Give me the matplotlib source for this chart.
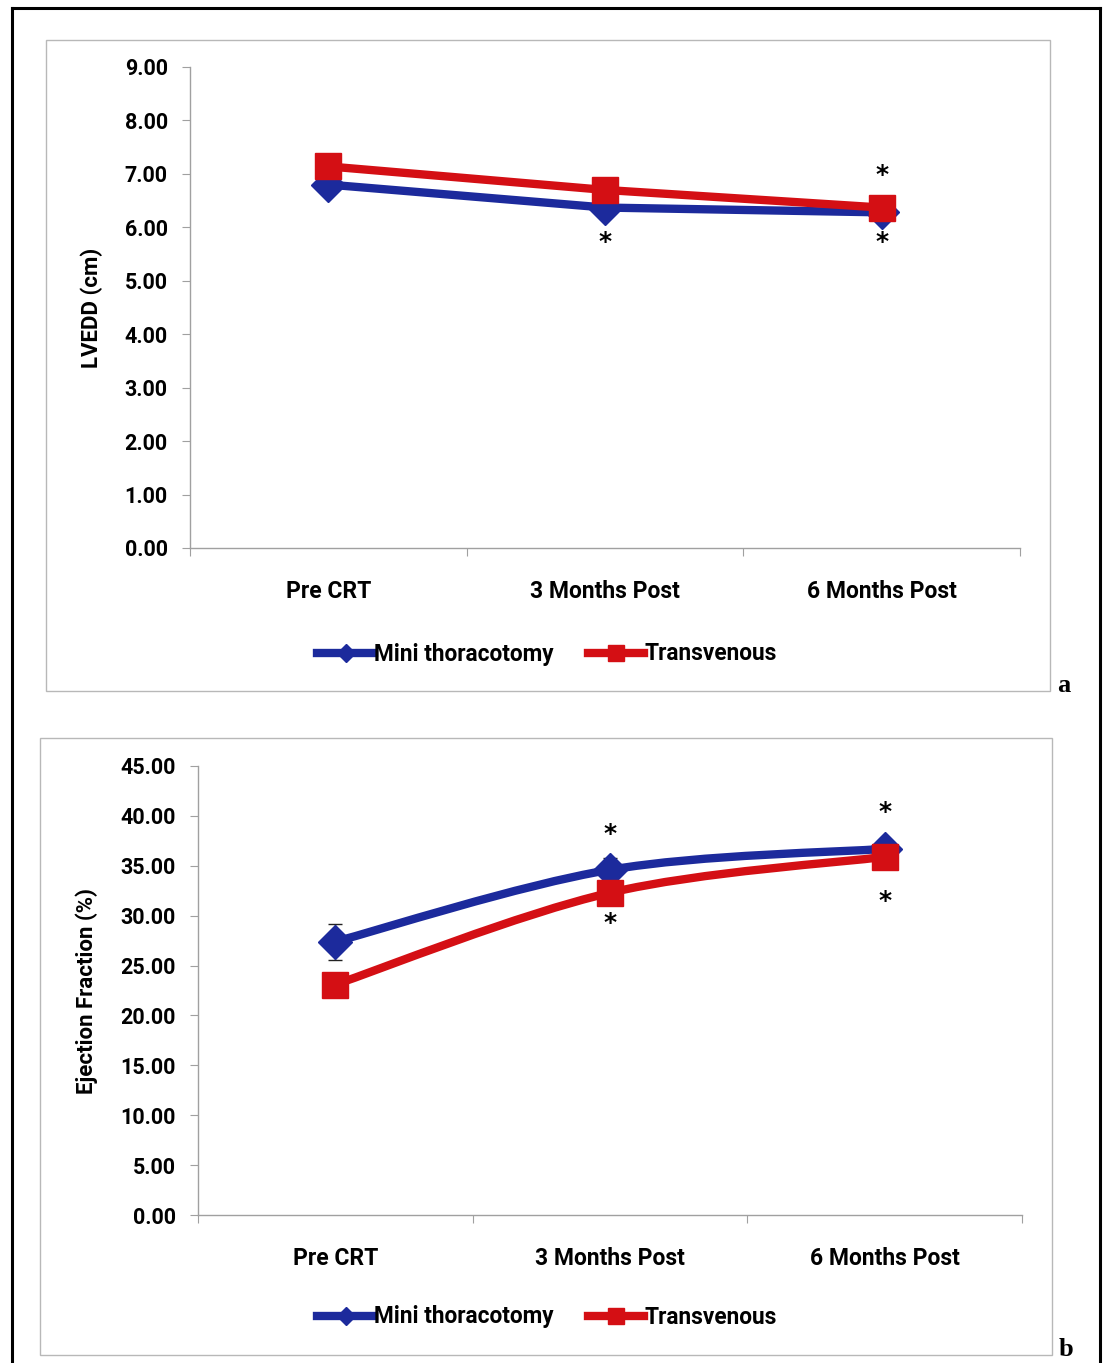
import matplotlib
matplotlib.use("Agg")
import matplotlib.pyplot as plt
import numpy as np
from matplotlib.path import Path
from matplotlib.patches import PathPatch, Rectangle
from matplotlib.lines import Line2D

categories = ["Pre CRT", "3 Months Post", "6 Months Post"]
series_names = ["Mini thoracotomy", "Transvenous"]

# Panel a: LVEDD (cm)
lvedd_mini = [6.80, 6.37, 6.28]
lvedd_trans = [7.14, 6.70, 6.37]

# Panel b: Ejection fraction (%)
ef_mini = [27.4, 34.6, 36.7]
ef_mini_err = [1.8, 1.2, 0.6]
ef_trans = [23.1, 32.3, 35.9]

lvedd_ticks = ["0.00", "1.00", "2.00", "3.00", "4.00", "5.00", "6.00", "7.00", "8.00", "9.00"]
ef_ticks = ["0.00", "5.00", "10.00", "15.00", "20.00", "25.00", "30.00", "35.00", "40.00", "45.00"]

BLUE = "#1c2a9c"
RED = "#d40f14"
AXGREY = "#a0a0a0"
FONT = "Roboto"

W, H = 1103, 1363
fig = plt.figure(figsize=(W / 100, H / 100), dpi=100)


def fx(px):
    return px / W


def fy(py):
    return 1 - py / H


# outer frame lines
fig.add_artist(Line2D([fx(12), fx(12)], [fy(8), 0], color="black", lw=2.2))
fig.add_artist(Line2D([fx(12), fx(1100)], [fy(8), fy(8)], color="black", lw=2.2))
fig.add_artist(Line2D([fx(1100), fx(1100)], [fy(8), 0], color="black", lw=2.2))

# grey chart frames
fig.add_artist(Rectangle((fx(46), fy(691)), fx(1050 - 46), (691 - 40) / H,
                         fill=False, edgecolor="#b8b8b8", lw=1.0))
fig.add_artist(Rectangle((fx(40), fy(1355)), fx(1052 - 40), (1355 - 738) / H,
                         fill=False, edgecolor="#b8b8b8", lw=1.0))


def smooth_path(xs, ys):
    # Bezier curve through the points, control points from neighbouring points
    pts = np.column_stack([xs, ys]).astype(float)
    n = len(pts)
    verts = [pts[0]]
    codes = [Path.MOVETO]
    for i in range(n - 1):
        p0 = pts[i - 1] if i > 0 else pts[i]
        p1 = pts[i]
        p2 = pts[i + 1]
        p3 = pts[i + 2] if i + 2 < n else pts[i + 1]
        c1 = p1 + (p2 - p0) / 6.0
        c2 = p2 - (p3 - p1) / 6.0
        verts += [c1, c2, p2]
        codes += [Path.CURVE4] * 3
    return Path(verts, codes)


def make_axes(box, ymax, ystep, ticklabels, ylabel, ylabel_x):
    l, t, r, b = box
    ax = fig.add_axes([fx(l), fy(b), fx(r - l), (b - t) / H])
    ax.set_xlim(0, 3)
    ax.set_ylim(0, ymax)
    for s in ["top", "right"]:
        ax.spines[s].set_visible(False)
    for s in ["left", "bottom"]:
        ax.spines[s].set_color(AXGREY)
        ax.spines[s].set_linewidth(1.0)
    ax.set_yticks(np.arange(0, ymax + ystep / 2, ystep))
    ax.set_yticklabels(ticklabels, fontsize=15.5, fontweight="bold", family=FONT)
    ax.set_xticks([0, 1, 2, 3])
    ax.set_xticklabels([])
    ax.set_xticks([0.5, 1.5, 2.5], minor=True)
    ax.set_xticklabels(categories, minor=True, fontsize=16.5, fontweight="bold", family=FONT)
    ax.tick_params(axis="x", which="minor", length=0, pad=23)
    ax.tick_params(axis="x", which="major", length=6, color=AXGREY, direction="out")
    ax.tick_params(axis="y", length=6, color=AXGREY, direction="out", pad=10)
    ax.patch.set_alpha(0)
    fig.text(fx(ylabel_x), (fy(t) + fy(b)) / 2, ylabel, rotation=90, ha="center", va="center",
             fontsize=16, fontweight="bold", family=FONT)
    return ax


xs = np.array([0.5, 1.5, 2.5])

# ---- panel a ----
ax1 = make_axes((190, 67, 1020, 548), 9, 1, lvedd_ticks, "LVEDD (cm)", 92)
ax1.plot(xs, lvedd_mini, color=BLUE, lw=6, marker="D", ms=17, mfc=BLUE, mec=BLUE,
         solid_capstyle="round", zorder=3)
ax1.plot(xs, lvedd_trans, color=RED, lw=6, marker="s", ms=19, mfc=RED, mec=RED,
         solid_capstyle="round", zorder=4)
star = dict(ha="center", va="center", fontsize=18, fontweight="bold", family="DejaVu Sans", zorder=5)
ax1.text(1.5, lvedd_mini[1] - 0.65, "*", **star)
ax1.text(2.5, lvedd_mini[2] - 0.56, "*", **star)
ax1.text(2.5, lvedd_trans[2] + 0.60, "*", **star)

# ---- panel b ----
ax2 = make_axes((198, 766, 1022, 1215), 45, 5, ef_ticks, "Ejection Fraction (%)", 87)
ax2.errorbar(xs, ef_mini, yerr=ef_mini_err, fmt="none", ecolor="#222222", elinewidth=1.0,
             capsize=5, capthick=1.0, zorder=2)
for vals, col, z in [(ef_mini, BLUE, 3), (ef_trans, RED, 4)]:
    ax2.add_patch(PathPatch(smooth_path(xs, vals), facecolor="none", edgecolor=col, lw=6,
                            capstyle="round", zorder=z))
ax2.plot(xs, ef_mini, ls="none", marker="D", ms=17, mfc=BLUE, mec=BLUE, zorder=3.5)
ax2.plot(xs, ef_trans, ls="none", marker="s", ms=19, mfc=RED, mec=RED, zorder=4.5)
ax2.text(1.5, ef_mini[1] + 3.6, "*", **star)
ax2.text(1.5, ef_trans[1] - 3.0, "*", **star)
ax2.text(2.5, ef_mini[2] + 3.7, "*", **star)
ax2.text(2.5, ef_trans[2] - 4.4, "*", **star)

# legends
handles = [
    Line2D([], [], color=BLUE, lw=6, marker="D", ms=9, mfc=BLUE, mec=BLUE),
    Line2D([], [], color=RED, lw=6, marker="s", ms=11, mfc=RED, mec=RED),
]
for yc in (654, 1317):
    fig.legend(handles, series_names, loc="center", bbox_to_anchor=(fx(547), fy(yc)),
               ncol=2, frameon=False, handlelength=2.5, handletextpad=0.0, columnspacing=1.5,
               prop={"family": FONT, "weight": "bold", "size": 16.3})

# panel letters
fig.text(fx(1064), fy(686), "a", ha="center", va="center", fontsize=19, fontweight="bold",
         family="Liberation Serif")
fig.text(fx(1066), fy(1349), "b", ha="center", va="center", fontsize=19, fontweight="bold",
         family="Liberation Serif")

fig.savefig("out.png", dpi=100)
